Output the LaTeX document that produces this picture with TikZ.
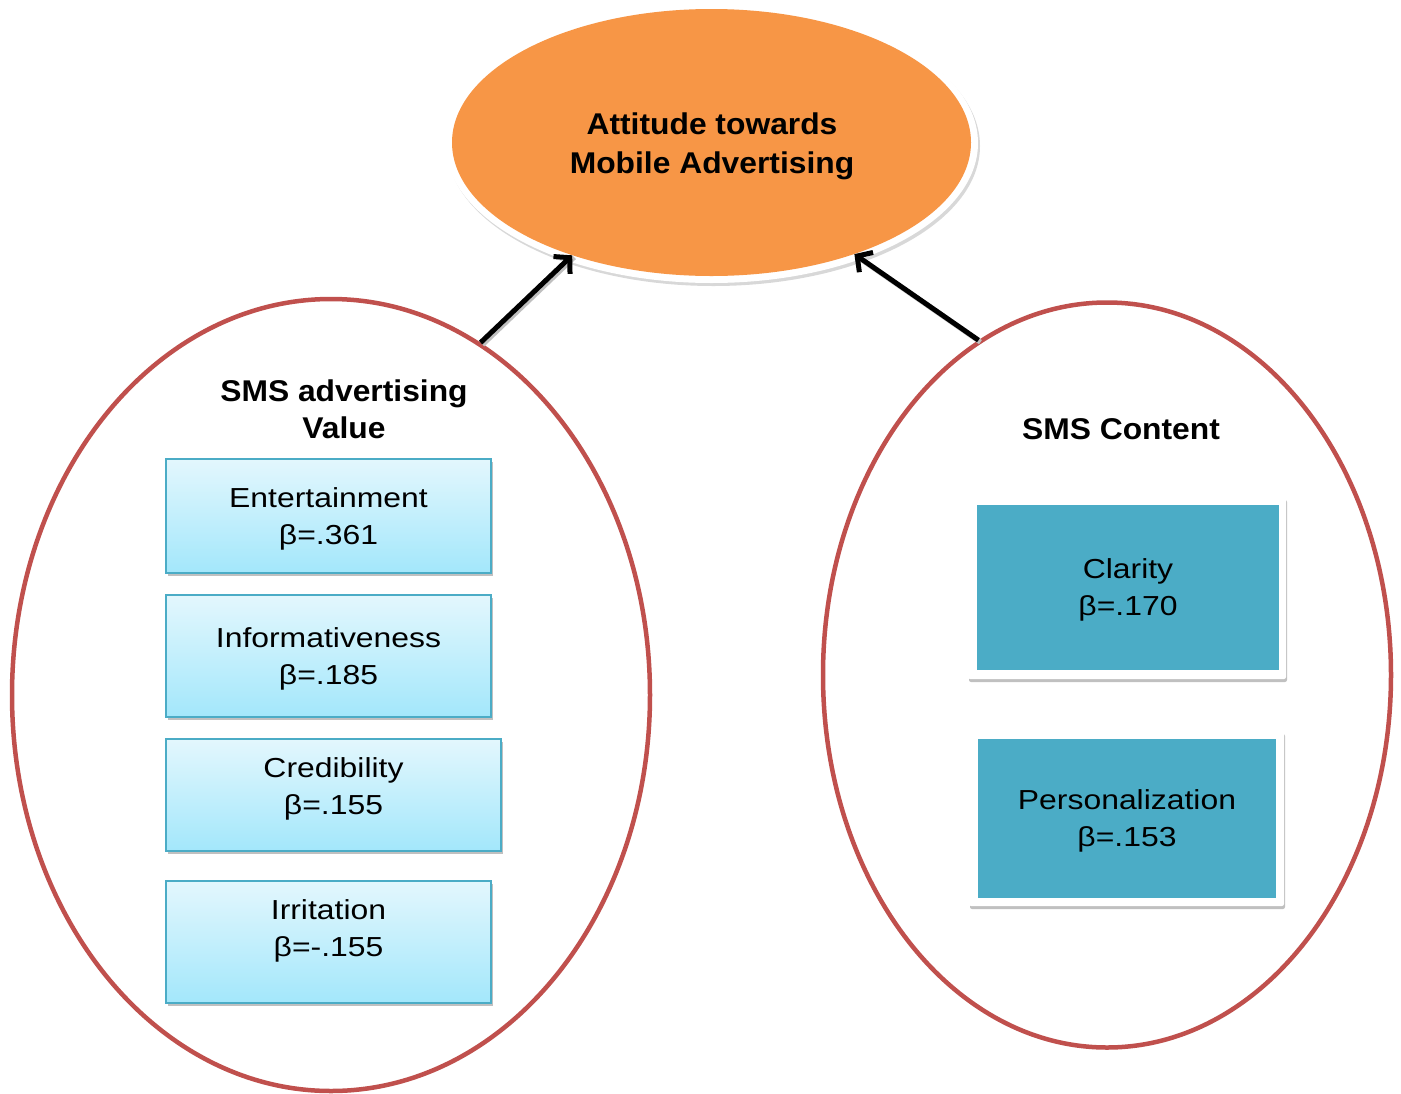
\documentclass[tikz,border=0pt]{standalone}
\usepackage{fontspec}
\setmainfont{Liberation Sans}
\newfontfamily\regfont[FakeStretch=1.16]{Liberation Sans}
\newfontfamily\boldfont[FakeStretch=1.06]{Liberation Sans Bold}
\usetikzlibrary{shapes.geometric,shadows,arrows.meta}
\definecolor{orangeF}{HTML}{F79646}
\definecolor{redE}{HTML}{C0504D}
\definecolor{tealF}{HTML}{4BACC6}
\definecolor{lightTop}{HTML}{E3F7FD}
\definecolor{lightBot}{HTML}{A3E7FB}
\definecolor{boxLine}{HTML}{4BACC6}
\begin{document}
\begin{tikzpicture}[x=1pt,y=-1pt,
  outerell/.style={ellipse, draw=redE, line width=4.5pt, inner sep=0pt},
  lbox/.style={rectangle, draw=boxLine, line width=1.5pt, top color=lightTop, bottom color=lightBot, inner sep=0pt,
    drop shadow={shadow xshift=2pt, shadow yshift=-3pt, opacity=0.35, fill=black!70}},
  wframe/.style={rectangle, fill=white, inner sep=0pt, rounded corners=2pt,
    drop shadow={shadow xshift=1pt, shadow yshift=-3pt, opacity=0.35, fill=black!70}},
  tbox/.style={rectangle, fill=tealF, inner sep=0pt},
  txt/.style={align=center, font=\regfont\fontsize{27.5}{37}\selectfont, inner sep=0pt},
  head/.style={align=center, font=\boldfont\fontsize{30}{37}\selectfont, inner sep=0pt},
  arr/.style={line width=5pt, -{Straight Barb[length=11pt,width=24pt,line width=5pt]},
    preaction={draw=black!25, line width=5pt, transform canvas={xshift=2pt,yshift=-2pt}, -}}
]
\useasboundingbox (0,0) rectangle (1401,1093);
\fill[white] (0,0) rectangle (1401,1093);

% top ellipse
\node[ellipse, fill=white, minimum width=533pt, minimum height=280pt, inner sep=0pt,
  drop shadow={shadow xshift=2pt, shadow yshift=-3pt, opacity=0.25, fill=black!60}] (Tw) at (711.5,143) {};
\node[ellipse, fill=orangeF, minimum width=519pt, minimum height=267pt, inner sep=0pt] (T) at (711.5,142.5) {};
\node[head, font=\boldfont\fontsize{30}{39}\selectfont] (Tt) at (712,146) {Attitude towards\\Mobile Advertising};

% left ellipse
\node[outerell, minimum width=638pt, minimum height=792pt] (L) at (331,695) {};
\node[head] (Lh) at (344,409) {SMS advertising\\Value};

% right ellipse
\node[outerell, minimum width=568pt, minimum height=745pt] (R) at (1107,675) {};
\node[head] (Rh) at (1121,429) {SMS Content};

% left boxes
\node[lbox, minimum width=325pt, minimum height=114pt] (b1) at (328.5,516) {};
\node[txt] (b1t) at (328.5,519) {Entertainment\\β=.361};
\node[lbox, minimum width=325pt, minimum height=122pt] (b2) at (328.5,656) {};
\node[txt] (b2t) at (328.5,659) {Informativeness\\β=.185};
\node[lbox, minimum width=335pt, minimum height=112pt] (b3) at (333.5,795) {};
\node[txt] (b3t) at (333.5,789) {Credibility\\β=.155};
\node[lbox, minimum width=325pt, minimum height=122pt] (b4) at (328.5,942) {};
\node[txt] (b4t) at (328.5,931) {Irritation\\β=-.155};

% right boxes
\node[wframe, minimum width=318pt, minimum height=182pt] (c1f) at (1127,588) {};
\node[tbox, minimum width=302pt, minimum height=165pt] (c1) at (1128,587.5) {};
\node[txt] (c1t) at (1128,590) {Clarity\\β=.170};
\node[wframe, minimum width=315pt, minimum height=175pt] (c2f) at (1126.5,818.5) {};
\node[tbox, minimum width=298pt, minimum height=159pt] (c2) at (1127,818.5) {};
\node[txt] (c2t) at (1127,821) {Personalization\\β=.153};

% arrows
\draw[arr] (L.67) -- (T.219);
\draw[arr] (R.111.5) -- (T.322);
\end{tikzpicture}
\end{document}
